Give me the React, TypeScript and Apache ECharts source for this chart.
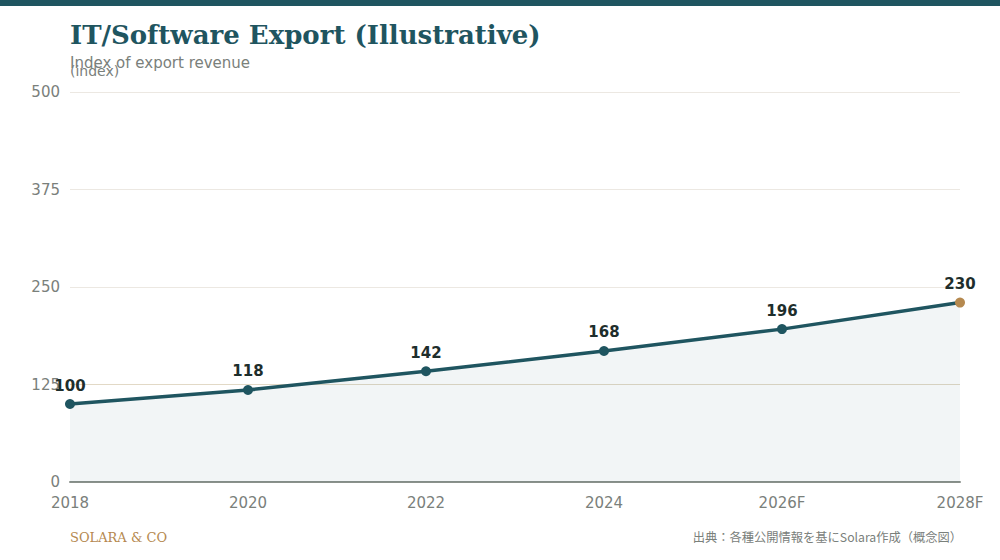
import React, { useEffect, useRef } from "react";
import * as echarts from "echarts";

const categories = ["2018", "2020", "2022", "2024", "2026F", "2028F"];
const values = [100, 118, 142, 168, 196, 230];
const yTicks = [0, 125, 250, 375, 500];

const TEAL = "#1f5560";
const TAN = "#b5894f";
const GREY = "#7a807b";

export default function App() {
  const ref = useRef<HTMLDivElement>(null);
  useEffect(() => {
    if (!ref.current) return;
    const chart = echarts.init(ref.current, null, { renderer: "svg" });
    const lastIdx = values.length - 1;
    chart.setOption({
      animation: false,
      backgroundColor: "#ffffff",
      grid: { left: 70, right: 40, top: 92, bottom: 78 },
      graphic: [
        { type: "rect", left: 0, top: 0, shape: { width: 1000, height: 6 }, style: { fill: TEAL } },
        {
          type: "text",
          left: 70,
          top: 22,
          style: {
            text: "IT/Software Export (Illustrative)",
            font: "bold 26px 'DejaVu Serif', serif",
            fill: TEAL,
          },
        },
        {
          type: "text",
          left: 70,
          top: 55,
          style: {
            text: "Index of export revenue",
            font: "15px 'DejaVu Sans', sans-serif",
            fill: GREY,
          },
        },
        {
          type: "text",
          left: 70,
          top: 531,
          style: {
            text: "SOLARA & CO",
            font: "13px 'DejaVu Serif', serif",
            fill: TAN,
          },
        },
        {
          type: "text",
          right: 38,
          top: 531,
          style: {
            text: "出典：各種公開情報を基にSolara作成（概念図）",
            font: "12.25px 'Noto Sans CJK JP', sans-serif",
            fill: GREY,
          },
        },
      ],
      xAxis: {
        type: "category",
        data: categories,
        boundaryGap: false,
        axisLine: { show: true, lineStyle: { color: "#8a918b", width: 2 } },
        axisTick: { show: false },
        axisLabel: { color: GREY, fontSize: 15, margin: 13, fontFamily: "DejaVu Sans" },
        splitLine: { show: false },
      },
      yAxis: {
        type: "value",
        min: yTicks[0],
        max: yTicks[yTicks.length - 1],
        interval: 125,
        name: "(index)",
        nameLocation: "end",
        nameGap: 14,
        nameTextStyle: { color: GREY, fontSize: 14, align: "left", fontFamily: "DejaVu Sans" },
        axisLine: { show: false },
        axisTick: { show: false },
        axisLabel: { color: GREY, fontSize: 15, margin: 10, fontFamily: "DejaVu Sans" },
        splitLine: {
          show: true,
          lineStyle: { color: ["#ece8e2", "#e2d9c6", "#ece8e2", "#ece8e2", "#ece8e2"], width: 1 },
        },
      },
      series: [
        {
          type: "line",
          data: values.map((v, i) =>
            i === lastIdx
              ? { value: v, itemStyle: { color: TAN }, symbolSize: 10 }
              : { value: v }
          ),
          symbol: "circle",
          symbolSize: 10,
          lineStyle: { color: TEAL, width: 3.5 },
          itemStyle: { color: TEAL },
          areaStyle: { color: "rgba(31,85,96,0.085)" },
          label: {
            show: true,
            position: "top",
            distance: 6,
            fontSize: 15,
            fontWeight: "bold",
            color: "#1e2e2c",
            fontFamily: "DejaVu Sans",
          },
        },
      ],
    });
    return () => chart.dispose();
  }, []);
  return <div ref={ref} style={{ width: 1000, height: 560, position: "absolute", left: 0, top: 0 }} />;
}
